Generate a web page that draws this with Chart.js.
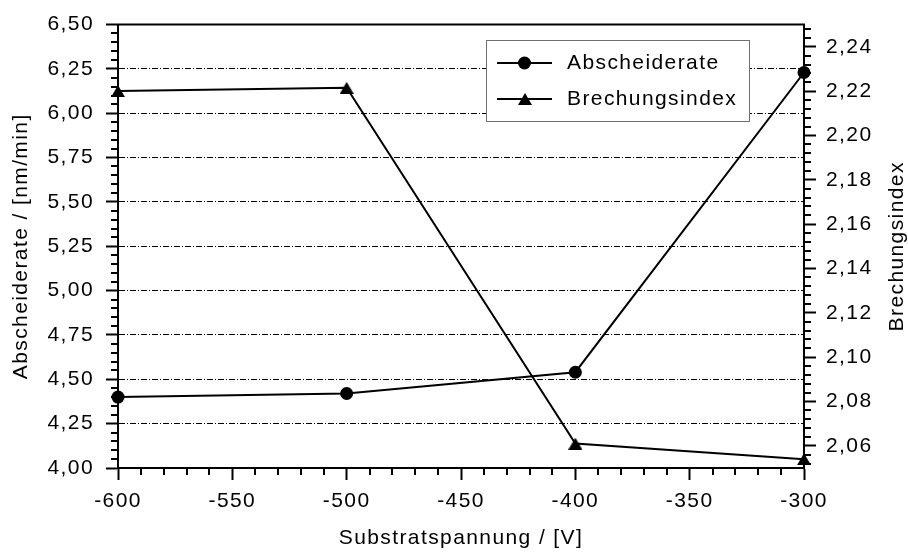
<!DOCTYPE html>
<html>
<head>
<meta charset="utf-8">
<title>Abscheiderate und Brechungsindex</title>
<script src="https://cdn.jsdelivr.net/npm/chart.js@4.4.0/dist/chart.umd.min.js"></script>
<style>
  html, body { margin: 0; padding: 0; background: #ffffff; }
  canvas { display: block; }
</style>
</head>
<body>
<canvas id="chart" width="908" height="552"></canvas>
<script>
// Messwerte
const voltages = [-600, -500, -400, -300];
const depositionRate = [4.40, 4.42, 4.54, 6.23];
const refractiveIndex = [2.220, 2.2215, 2.061, 2.054];

// Achsenbeschriftung
const seriesNames = ['Abscheiderate', 'Brechungsindex'];
const xTitle = 'Substratspannung / [V]';
const rateTitle = 'Abscheiderate / [nm/min]';
const indexTitle = 'Brechungsindex';
const xTicks = [-600, -550, -500, -450, -400, -350, -300];
const rateTicks = [4.00, 4.25, 4.50, 4.75, 5.00, 5.25, 5.50, 5.75, 6.00, 6.25, 6.50];
const indexTicks = [2.06, 2.08, 2.10, 2.12, 2.14, 2.16, 2.18, 2.20, 2.22, 2.24];

// spacing of the short unlabelled ticks per axis
const MINOR_STEPS = { x: 10, y: 0.05, y1: 0.004 };
const MINOR_LENGTH = 7;
const MINOR_COLOR = '#000000';

const FONT_SIZE = 21;
const FONT = '"Liberation Sans", Arial, Helvetica, sans-serif';
const SPACING = '1.4px';
const comma = v => Number(v).toFixed(2).replace('.', ',');

// filled triangle marker, centred on its bounding box
function triangleMarker(w, h) {
  const c = document.createElement('canvas');
  c.width = w; c.height = h;
  const g = c.getContext('2d');
  g.fillStyle = '#000';
  g.beginPath();
  g.moveTo(w / 2, 0);
  g.lineTo(w, h);
  g.lineTo(0, h);
  g.closePath();
  g.fill();
  return c;
}
const triangle = triangleMarker(14, 12);

const setTicks = list => scale => { scale.ticks = list.map(v => ({ value: v })); };

// wider character spacing for all canvas text
const spacingPlugin = {
  id: 'spacing',
  beforeUpdate(chart) { chart.ctx.letterSpacing = SPACING; },
  beforeDraw(chart) { chart.ctx.letterSpacing = SPACING; }
};

// short unlabelled ticks between the labelled ones, counted from the first labelled tick
const minorTicks = {
  id: 'minorTicks',
  afterDraw(chart) {
    const ctx = chart.ctx;
    ctx.save();
    ctx.fillStyle = MINOR_COLOR;
    for (const id of Object.keys(MINOR_STEPS)) {
      const scale = chart.scales[id];
      const step = MINOR_STEPS[id];
      const majors = scale.ticks.map(t => t.value);
      const anchor = majors[0];
      const k0 = Math.ceil((scale.min - anchor) / step - 1e-6);
      const k1 = Math.floor((scale.max - anchor) / step + 1e-6);
      for (let k = k0; k <= k1; k++) {
        const v = anchor + k * step;
        if (majors.some(m => Math.abs(m - v) < step / 10)) continue;
        const p = Math.round(scale.getPixelForValue(v));
        if (id === 'x') {
          ctx.fillRect(p - 1, scale.top, 2, MINOR_LENGTH);
        } else if (id === 'y') {
          ctx.fillRect(scale.right - MINOR_LENGTH, p - 1, MINOR_LENGTH, 2);
        } else {
          ctx.fillRect(scale.left, p - 1, MINOR_LENGTH, 2);
        }
      }
    }
    ctx.restore();
  }
};

// top frame line and the rotated title of the right axis
const RIGHT_TITLE_X = 897;
const frame = {
  id: 'frame',
  beforeDatasetsDraw(chart) {
    const { ctx, chartArea: a } = chart;
    ctx.save();
    ctx.setLineDash([]);
    ctx.strokeStyle = '#000';
    ctx.lineWidth = 2;
    ctx.beginPath();
    ctx.moveTo(a.left - 1, a.top);
    ctx.lineTo(a.right + 1, a.top);
    ctx.stroke();
    ctx.restore();
  },
  afterDraw(chart) {
    const { ctx, chartArea: a } = chart;
    ctx.save();
    ctx.translate(RIGHT_TITLE_X, (a.top + a.bottom) / 2);
    ctx.rotate(-Math.PI / 2);
    ctx.fillStyle = '#000';
    ctx.font = FONT_SIZE + 'px ' + FONT;
    ctx.textAlign = 'center';
    ctx.textBaseline = 'middle';
    ctx.fillText(indexTitle, 0, 0);
    ctx.restore();
  }
};

// framed legend inside the plot
const LEGEND = { x: 486, y: 40, w: 263, h: 81, firstRow: 23, rowGap: 36, lineStart: 11, lineLength: 55, textStart: 81 };
const boxLegend = {
  id: 'boxLegend',
  afterDatasetsDraw(chart) {
    const ctx = chart.ctx;
    const o = LEGEND;
    ctx.save();
    ctx.setLineDash([]);
    ctx.fillStyle = '#fff';
    ctx.fillRect(o.x, o.y, o.w, o.h);
    ctx.strokeStyle = '#707070';
    ctx.lineWidth = 1;
    ctx.strokeRect(o.x + 0.5, o.y + 0.5, o.w, o.h);
    ctx.font = FONT_SIZE + 'px ' + FONT;
    ctx.textBaseline = 'middle';
    ctx.textAlign = 'left';
    chart.data.datasets.forEach((ds, i) => {
      const cy = o.y + o.firstRow + i * o.rowGap;
      const x0 = o.x + o.lineStart;
      const xm = x0 + o.lineLength / 2;
      ctx.strokeStyle = '#000';
      ctx.lineWidth = ds.borderWidth;
      ctx.beginPath();
      ctx.moveTo(x0, cy);
      ctx.lineTo(x0 + o.lineLength, cy);
      ctx.stroke();
      ctx.fillStyle = '#000';
      if (ds.pointStyle instanceof HTMLCanvasElement) {
        ctx.drawImage(ds.pointStyle, Math.round(xm - ds.pointStyle.width / 2), Math.round(cy - ds.pointStyle.height / 2));
      } else {
        ctx.beginPath();
        ctx.arc(xm, cy, ds.pointRadius, 0, Math.PI * 2);
        ctx.fill();
      }
      ctx.fillText(ds.label, o.x + o.textStart, cy);
    });
    ctx.restore();
  }
};

const tickFont = { size: FONT_SIZE, family: FONT };

new Chart(document.getElementById('chart'), {
  type: 'line',
  data: {
    datasets: [
      {
        label: seriesNames[0],
        data: voltages.map((v, i) => ({ x: v, y: depositionRate[i] })),
        yAxisID: 'y',
        borderColor: '#000',
        backgroundColor: '#000',
        borderWidth: 2,
        pointStyle: 'circle',
        pointRadius: 6.5,
        pointBorderWidth: 0,
        pointBackgroundColor: '#000',
        tension: 0
      },
      {
        label: seriesNames[1],
        data: voltages.map((v, i) => ({ x: v, y: refractiveIndex[i] })),
        yAxisID: 'y1',
        borderColor: '#000',
        backgroundColor: '#000',
        borderWidth: 2,
        pointStyle: triangle,
        pointRadius: 7,
        pointBorderWidth: 0,
        tension: 0
      }
    ]
  },
  options: {
    responsive: false,
    animation: false,
    devicePixelRatio: 1,
    clip: false,
    layout: { padding: { top: 24, left: 0, right: 0, bottom: 0 } },
    plugins: {
      legend: { display: false },
      tooltip: { enabled: false }
    },
    scales: {
      x: {
        type: 'linear',
        position: 'bottom',
        min: -600,
        max: -300,
        afterBuildTicks: setTicks(xTicks),
        afterFit: s => { s.height = 84; },
        grid: { drawOnChartArea: false, drawTicks: true, tickLength: 12, tickWidth: 2, tickColor: '#000' },
        border: { display: true, color: '#000', width: 2 },
        ticks: { color: '#000', font: tickFont, padding: 9, maxRotation: 0, autoSkip: false, callback: v => String(v) },
        title: { display: true, text: xTitle, color: '#000', font: tickFont, padding: { top: 0, bottom: 1 } }
      },
      y: {
        type: 'linear',
        position: 'left',
        min: 4,
        max: 6.5,
        afterBuildTicks: setTicks(rateTicks),
        afterFit: s => { s.width = 118; },
        grid: {
          drawOnChartArea: true,
          color: c => (c.tick && (Math.abs(c.tick.value - 4) < 1e-6 || Math.abs(c.tick.value - 6.5) < 1e-6)) ? 'rgba(0,0,0,0)' : '#000',
          lineWidth: 1,
          tickLength: 12,
          tickWidth: 2,
          tickColor: '#000'
        },
        border: { display: true, color: '#000', width: 2, dash: [6, 2, 1, 2] },
        ticks: { color: '#000', font: tickFont, padding: 12, autoSkip: false, callback: comma },
        title: { display: true, text: rateTitle, color: '#000', font: tickFont, padding: { top: 9, bottom: 0 } }
      },
      y1: {
        type: 'linear',
        position: 'right',
        min: 2.05,
        max: 2.25,
        afterBuildTicks: setTicks(indexTicks),
        afterFit: s => { s.width = 104; },
        grid: { drawOnChartArea: false, drawTicks: true, tickLength: 12, tickWidth: 2, tickColor: '#000' },
        border: { display: true, color: '#000', width: 2 },
        ticks: { color: '#000', font: tickFont, padding: 10, autoSkip: false, callback: comma },
        title: { display: false }
      }
    }
  },
  plugins: [spacingPlugin, minorTicks, frame, boxLegend]
});
</script>
</body>
</html>
